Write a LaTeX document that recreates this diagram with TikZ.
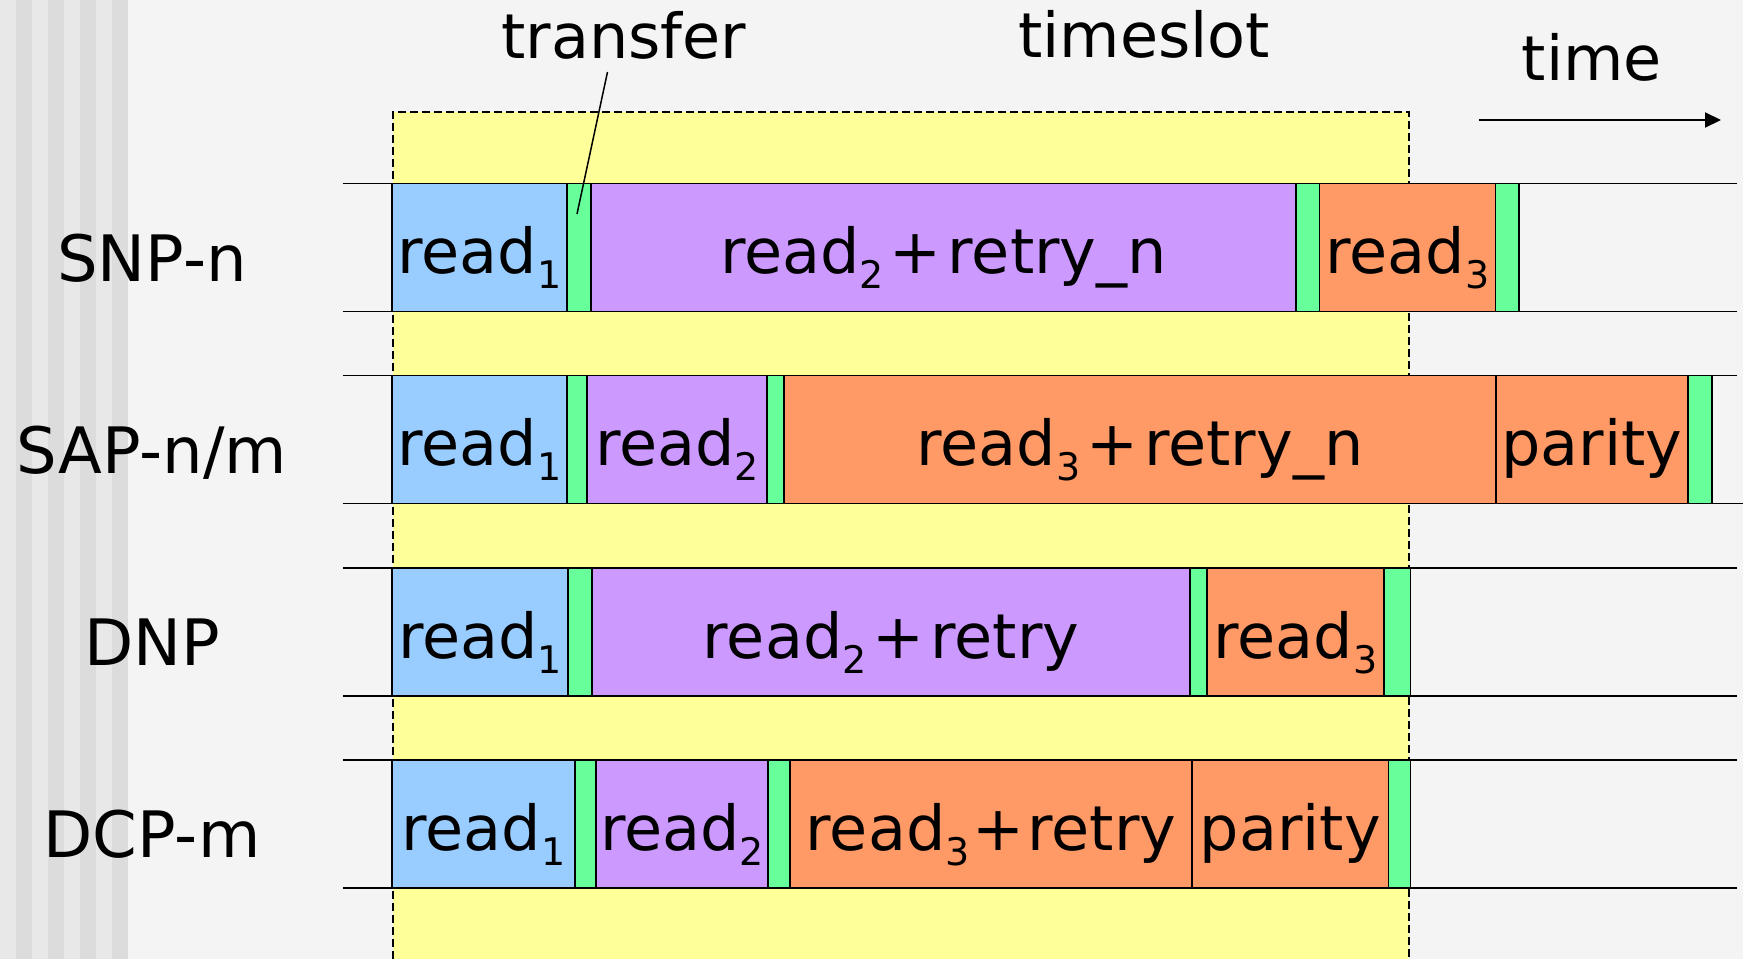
\documentclass[tikz,border=0pt]{standalone}
\usepackage{fontspec}
\setmainfont{DejaVu Sans}
\usetikzlibrary{arrows.meta}
\definecolor{bgc}{HTML}{F4F4F4}
\definecolor{stripeA}{HTML}{E8E8E8}
\definecolor{stripeB}{HTML}{DCDCDC}
\definecolor{slotc}{HTML}{FFFF99}
\definecolor{bluec}{HTML}{99CCFF}
\definecolor{greenc}{HTML}{66FF99}
\definecolor{purplec}{HTML}{CC99FF}
\definecolor{orangec}{HTML}{FF9966}
\newcommand\bigtxt{\fontsize{62}{74}\selectfont}
\newcommand\lbltxt{\fontsize{64}{76}\selectfont}
\newcommand\sbs[1]{\raisebox{-15pt}{\fontsize{38}{38}\selectfont #1}}
\newcommand\plusgap{\hspace{6pt}+\hspace{6pt}}
\newcommand\blk[6]{%
  \node[blk, fill=#5, minimum width={(#3-#2)*1pt}, anchor=north west] (#1) at (#2,#4) {};
  \node[txt, anchor=base] (#1t) at ({(#2+#3)/2},{#4+90}) {#6};
}
\begin{document}
\begin{tikzpicture}[x=1pt,y=-1pt,
  blk/.style={draw=black, line width=1.5pt, minimum height=128pt, inner sep=0pt, outer sep=0pt},
  txt/.style={inner sep=0pt, outer sep=0pt, font=\bigtxt},
  rowlbl/.style={inner sep=0pt, outer sep=0pt, font=\lbltxt, anchor=base},
  rowline/.style={line width=1.8pt, black},
  slotborder/.style={line width=1.6pt, dash pattern=on 8pt off 4pt},
  leader/.style={line width=1.5pt}]
\useasboundingbox (0,0) rectangle (1743,959);
\fill[bgc] (0,0) rectangle (1743,959);
\foreach \i in {0,2,4,6} {
  \fill[stripeA] ({16*\i},0) rectangle ({16*\i+16},959);
  \fill[stripeB] ({16*\i+16},0) rectangle ({16*\i+32},959);
}
\fill[stripeB] (112,0) rectangle (127,959);
% timeslot
\fill[slotc] (393,112) rectangle (1409,959);
\draw[slotborder] (393,959) -- (393,112) -- (1409,112) -- (1409,959);
% row lines
\foreach \t in {183.5,375.5,568,760} {
  \draw[rowline] (343,\t) -- (1737,\t);
  \draw[rowline] (343,\t+128) -- (1737,\t+128);
}
\draw[rowline] (1700,503.5) -- (1743,503.5);
% row 1
\blk{a1}{392}{567}{183.5}{bluec}{read\sbs{1}}
\blk{a2}{567}{591}{183.5}{greenc}{}
\blk{a3}{591}{1296}{183.5}{purplec}{read\sbs{2}\plusgap retry\_n}
\blk{a4}{1296}{1319.5}{183.5}{greenc}{}
\blk{a5}{1319.5}{1495.5}{183.5}{orangec}{read\sbs{3}}
\blk{a6}{1495.5}{1519}{183.5}{greenc}{}
% row 2
\blk{b1}{392}{567}{375.5}{bluec}{read\sbs{1}}
\blk{b2}{567}{587}{375.5}{greenc}{}
\blk{b3}{587}{767}{375.5}{purplec}{read\sbs{2}}
\blk{b4}{767}{784}{375.5}{greenc}{}
\blk{b5}{784}{1496}{375.5}{orangec}{read\sbs{3}\plusgap retry\_n}
\blk{b6}{1496}{1688}{375.5}{orangec}{parity}
\blk{b7}{1688}{1712}{375.5}{greenc}{}
% row 3
\blk{c1}{392}{568}{568}{bluec}{read\sbs{1}}
\blk{c2}{568}{592}{568}{greenc}{}
\blk{c3}{592}{1190}{568}{purplec}{read\sbs{2}\plusgap retry}
\blk{c4}{1190}{1207}{568}{greenc}{}
\blk{c5}{1207}{1384}{568}{orangec}{read\sbs{3}}
\blk{c6}{1384}{1410.5}{568}{greenc}{}
% row 4
\blk{d1}{392}{575}{760}{bluec}{read\sbs{1}}
\blk{d2}{575}{596}{760}{greenc}{}
\blk{d3}{596}{768}{760}{purplec}{read\sbs{2}}
\blk{d4}{768}{790}{760}{greenc}{}
\blk{d5}{790}{1192}{760}{orangec}{read\sbs{3}\hspace{3pt}+\hspace{3pt}retry}
\blk{d6}{1192}{1388.5}{760}{orangec}{parity}
\blk{d7}{1388.5}{1410.5}{760}{greenc}{}
% row labels
\node[rowlbl] (l1) at (152,281.5) {SNP-n};
\node[rowlbl] (l2) at (152,473.5) {SAP-n/m};
\node[rowlbl] (l3) at (152,665.5) {DNP};
\node[rowlbl] (l4) at (152,857.5) {DCP-m};
% top labels
\node[txt, anchor=base] (transfer) at (624,58) {transfer};
\node[txt, anchor=base] (timeslot) at (1144,57) {timeslot};
\node[txt, anchor=base] (time) at (1592,80.5) {time};
\coordinate (lt) at (607.5,72);
\coordinate (lb) at (577,214);
\draw[leader] (lt) -- (lb);
\coordinate (ta) at (1479,120);
\coordinate (tb) at (1721,120);
\draw[line width=2pt, -{Triangle[length=16pt,width=15pt]}] (ta) -- (tb);
\end{tikzpicture}
\end{document}
